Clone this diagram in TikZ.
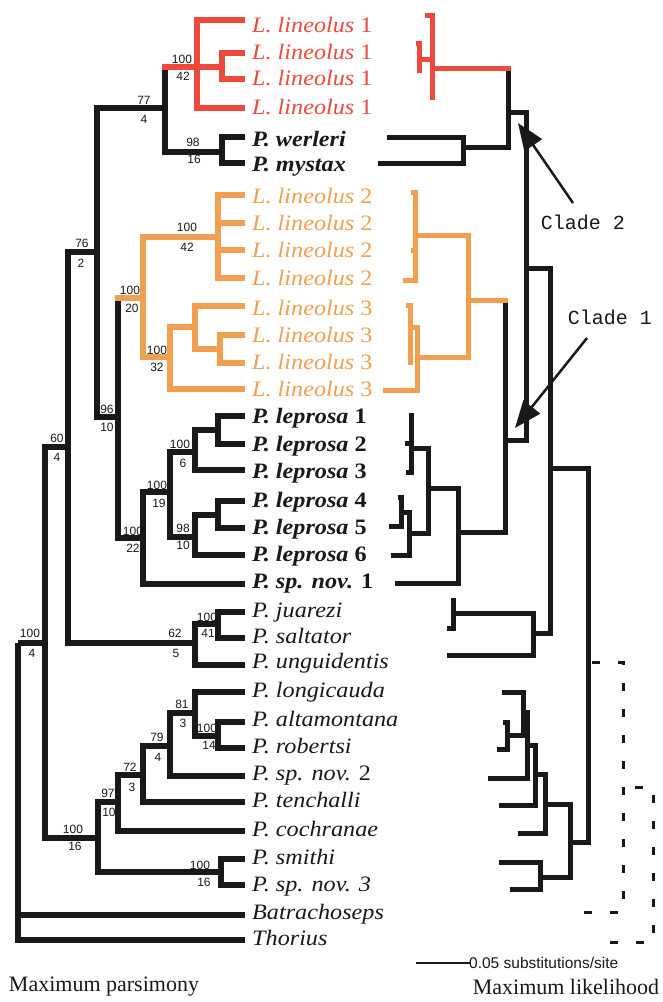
\documentclass[tikz,border=0pt]{standalone}
\usepackage{fontspec}
\setmainfont{Liberation Serif}
\newfontfamily\taxf[FakeStretch=1.1]{Liberation Serif}
\newfontfamily\numf{Liberation Sans}
\newfontfamily\monof{Liberation Mono}
\usetikzlibrary{arrows.meta}
\definecolor{redc}{RGB}{236,74,60}
\definecolor{orac}{RGB}{240,160,80}
\definecolor{inkc}{RGB}{25,25,25}
\begin{document}
\begin{tikzpicture}[x=1pt,y=-1pt,
  mp/.style={line width=5.5pt,draw=inkc},
  ml/.style={line width=5pt,draw=inkc},
  dsh/.style={line width=3pt,draw=inkc,dash pattern=on 8pt off 18pt},
  tx/.style={anchor=west,inner sep=0pt,text height=14pt,text depth=0pt,text=inkc,font=\taxf\fontsize{22}{24}\selectfont\itshape},
  txb/.style={tx,font=\taxf\fontsize{22}{24}\selectfont\bfseries\itshape},
  bs/.style={inner sep=0pt,text=inkc,font=\numf\fontsize{12}{13}\selectfont},
  arr/.style={line width=2.5pt,draw=inkc,-{Triangle[length=27pt,width=21pt]}},
  ttl/.style={inner sep=0pt,text=inkc,font=\fontsize{22}{24}\selectfont}
]
\useasboundingbox (0,0) rectangle (663,1002);
\fill[white] (0,0) rectangle (663,1002);

% ---------- Maximum parsimony tree: internal nodes ----------
\coordinate (R) at (18,643);
\coordinate (n100a) at (45,643);
\coordinate (n60) at (68,447);
\coordinate (n76) at (97,252);
\coordinate (n77) at (165,108);
\coordinate (nred) at (197,67);
\coordinate (nl1bc) at (222,67);
\coordinate (n98w) at (222,152);
\coordinate (n96) at (118,417);
\coordinate (nora) at (143,298);
\coordinate (nl2) at (218,237);
\coordinate (nl3) at (170,357);
\coordinate (nl3abc) at (195,327);
\coordinate (nl3bc) at (220,349);
\coordinate (nlep) at (143,538);
\coordinate (n19) at (170,492);
\coordinate (n6) at (195,452);
\coordinate (nlep12) at (218,430);
\coordinate (n98l) at (195,537);
\coordinate (nlep45) at (218,515);
\coordinate (n62) at (195,643);
\coordinate (n41) at (218,624);
\coordinate (n100b) at (98,838);
\coordinate (n97) at (118,802);
\coordinate (n72) at (143,775);
\coordinate (n79) at (170,746);
\coordinate (n81) at (195,713);
\coordinate (n14) at (218,736);
\coordinate (nsm) at (221,872);
% tips
\foreach \n/\y in {tL1a/20,tL1b/53,tL1c/79,tL1d/108,twer/137,tmys/163,
  tL2a/195,tL2b/223,tL2c/250,tL2d/278,tL3a/306,tL3b/335,tL3c/363,tL3d/389,
  tlep1/416,tlep2/444,tlep3/470,tlep4/501,tlep5/528,tlep6/555,tsp1/584,
  tjua/612,tsal/638,tung/665,tlon/692,talt/722,trob/748,tsp2/776,tten/802,
  tcoc/831,tsmi/859,tsp3/885,tbat/915,ttho/940}
  {\coordinate (\n) at (245,\y);}

% black branches
\foreach \p/\c in {R/n100a,R/tbat,R/ttho,n100a/n60,n100a/n100b,n60/n76,n60/n62,
  n76/n77,n76/n96,n77/n98w,n98w/twer,n98w/tmys,n96/nlep,nlep/n19,nlep/tsp1,
  n19/n6,n19/n98l,n6/nlep12,n6/tlep3,nlep12/tlep1,nlep12/tlep2,n98l/nlep45,
  n98l/tlep6,nlep45/tlep4,nlep45/tlep5,n62/n41,n62/tung,n41/tjua,n41/tsal,
  n100b/n97,n100b/nsm,n97/n72,n97/tcoc,n72/n79,n72/tten,n79/n81,n79/tsp2,
  n81/tlon,n81/n14,n14/talt,n14/trob,nsm/tsmi,nsm/tsp3}
  {\draw[mp] (\p) |- (\c);}
% split stems
\draw[mp] (n77) -- (n77 |- nred);
\draw[mp,draw=redc,line cap=rect] (n77 |- nred) -- (nred);
\draw[mp] (n96) -- (n96 |- nora);
\draw[mp,draw=orac,line cap=rect] (n96 |- nora) -- (nora);
% red
\foreach \p/\c in {nred/tL1a,nred/nl1bc,nred/tL1d,nl1bc/tL1b,nl1bc/tL1c}
  {\draw[mp,draw=redc] (\p) |- (\c);}
% orange
\foreach \p/\c in {nora/nl2,nora/nl3,nl2/tL2a,nl2/tL2b,nl2/tL2c,nl2/tL2d,
  nl3/nl3abc,nl3/tL3d,nl3abc/tL3a,nl3abc/nl3bc,nl3bc/tL3b,nl3bc/tL3c}
  {\draw[mp,draw=orac] (\p) |- (\c);}

% bootstrap values
\foreach \n/\x/\y/\t in {b1/182/59/100,b2/183/76/42,b3/144/100/77,b4/144/119/4,
  b5/193/142/98,b6/194/159/16,b7/187/227/100,b8/187/247/42,b9/82/243/76,b10/81/263/2,
  b11/130/290/100,b12/132/308/20,b13/157/350/100,b14/157/367/32,b15/107/409/96,
  b16/107/427/10,b17/57/438/60,b18/57/457/4,b19/180/444/100,b20/183/463/6,
  b21/157/485/100,b22/159/503/19,b23/133/531/100,b24/133/548/22,b25/183/528/98,
  b26/183/545/10,b27/30/633/100,b28/32/653/4,b29/175/633/62,b30/176/653/5,
  b31/207/617/100,b32/208/633/41,b33/182/704/81,b34/183/723/3,b35/207/728/100,
  b36/209/745/14,b37/157/737/79,b38/158/757/4,b39/130/767/72,b40/132/787/3,
  b41/108/793/97,b42/109/812/10,b43/73/829/100,b44/75/846/16,b45/200/865/100,
  b46/204/882/16}
  {\node[bs] (\n) at (\x,\y) {\t};}

% taxon labels
\foreach \n/\y in {lL1a/25,lL1b/52,lL1c/78,lL1d/107}
  {\node[tx,text=redc] (\n) at (252,\y) {L. lineolus \textup{1}};}
\foreach \n/\y in {lL2a/196,lL2b/223,lL2c/250,lL2d/278}
  {\node[tx,text=orac] (\n) at (252,\y) {L. lineolus \textup{2}};}
\foreach \n/\y in {lL3a/308,lL3b/335,lL3c/362,lL3d/389}
  {\node[tx,text=orac] (\n) at (252,\y) {L. lineolus \textup{3}};}
\node[txb] (lwer) at (252,139) {P. werleri};
\node[txb] (lmys) at (252,164) {P. mystax};
\foreach \n/\y/\k in {llep1/416/1,llep2/444/2,llep3/471/3,llep4/500/4,llep5/527/5,llep6/554/6}
  {\node[txb] (\n) at (252,\y) {P. leprosa \textup{\k}};}
\node[txb] (lsp1) at (252,581) {P. sp. nov. \textup{1}};
\node[tx] (ljua) at (252,610) {P. juarezi};
\node[tx] (lsal) at (252,636) {P. saltator};
\node[tx] (lung) at (252,661) {P. unguidentis};
\node[tx] (llon) at (252,690) {P. longicauda};
\node[tx] (lalt) at (252,719) {P. altamontana};
\node[tx] (lrob) at (252,746) {P. robertsi};
\node[tx] (lsp2) at (252,773) {P. sp. nov. \textup{2}};
\node[tx] (lten) at (252,800) {P. tenchalli};
\node[tx] (lcoc) at (252,829) {P. cochranae};
\node[tx] (lsmi) at (252,857) {P. smithi};
\node[tx] (lsp3) at (252,884) {P. sp. nov. 3};
\node[tx] (lbat) at (252,912) {Batrachoseps};
\node[tx] (ltho) at (252,938) {Thorius};

% ---------- Maximum likelihood tree ----------
\coordinate (mIR) at (588,662);
\coordinate (mD1) at (623,787);
\coordinate (mD0) at (653,787);
\coordinate (m550) at (550,468);
\coordinate (m570) at (570,842);
\coordinate (mA) at (526,268);
\coordinate (mJ) at (533,633);
\coordinate (mRW) at (508,112);
\coordinate (mB) at (505,440);
\coordinate (mRed) at (432,68);
\coordinate (mR23) at (419,59);
\coordinate (mWM) at (463,147);
\coordinate (mOr) at (468,300);
\coordinate (mL2) at (415,235);
\coordinate (mL3) at (417,357);
\coordinate (mL3a) at (410,327);
\coordinate (mLep) at (458,532);
\coordinate (mL16) at (428,488);
\coordinate (mL123) at (411,448);
\coordinate (mL456) at (409,533);
\coordinate (mL45) at (401,512);
\coordinate (mJS) at (453,613);
\coordinate (m545) at (545,804);
\coordinate (m535) at (535,774);
\coordinate (m527) at (527,745);
\coordinate (m523) at (523,712);
\coordinate (mAR) at (507,735);
\coordinate (mSm) at (540,877);
% ML tips
\foreach \n/\x/\y in {mt1/425/15,mt2/416/43,mt3/419/73,mt4/432/100,
  mwer/387/137,mmys/378/163,mL2a/411/192,mL2b/415/222,mL2c/411/250,mL2d/403/280,
  mL3a1/406/305,mL3b/410/335,mL3c/410/365,mL3d/383/390,
  mlep1/411/413,mlep2/405/443,mlep3/406/472,mlep4/398/497,mlep5/389/526,
  mlep6/391/555,msp1/395/583,mjua/453/598,msal/447/628,mung/447/655,
  mlon/502/692,malt/503/722,mrob/497/749,msp2/488/778,mten/499/805,mcoc/518/833,
  msmi/499/862,msp3/510/889,mbat/567/912,mtho/595/942}
  {\coordinate (\n) at (\x,\y);}

\foreach \p/\c in {mIR/m550,mIR/m570,m550/mA,m550/mJ,mA/mRW,mA/mB,mRW/mWM,
  mWM/mwer,mWM/mmys,mB/mLep,mLep/mL16,mLep/msp1,mL16/mL123,mL16/mL456,
  mL123/mlep1,mL123/mlep2,mL123/mlep3,mL456/mL45,mL456/mlep6,mL45/mlep4,
  mL45/mlep5,mJ/mJS,mJ/mung,mJS/mjua,mJS/msal,m570/m545,m570/mSm,m545/m535,
  m545/mcoc,m535/m527,m535/mten,m527/m523,m527/msp2,m523/mlon,m523/mAR,
  mAR/malt,mAR/mrob,mSm/msmi,mSm/msp3}
  {\draw[ml] (\p) |- (\c);}
\draw[ml] (mRW) -- (mRW |- mRed);
\draw[ml,draw=redc,line cap=rect] (mRW |- mRed) -- (mRed);
\draw[ml] (mB) -- (mB |- mOr);
\draw[ml,draw=orac,line cap=rect] (mB |- mOr) -- (mOr);
\foreach \p/\c in {mRed/mt1,mRed/mR23,mRed/mt4,mR23/mt2,mR23/mt3}
  {\draw[ml,draw=redc] (\p) |- (\c);}
\foreach \p/\c in {mOr/mL2,mOr/mL3,mL2/mL2a,mL2/mL2b,mL2/mL2c,mL2/mL2d,
  mL3/mL3a,mL3/mL3d,mL3a/mL3a1,mL3a/mL3b,mL3a/mL3c}
  {\draw[ml,draw=orac] (\p) |- (\c);}
% outgroup (dashed)
\draw[dsh,dash phase=22pt] (mIR) -| (mD1) |- (mbat);
\draw[dsh,dash phase=14pt] (mD1) -- (mD0) |- (mtho);

% clade arrows
\node[inner sep=0pt,text=inkc,font=\monof\fontsize{20}{22}\selectfont] (clade2) at (583,222) {Clade 2};
\node[inner sep=0pt,text=inkc,font=\monof\fontsize{20}{22}\selectfont] (clade1) at (610,317) {Clade 1};
\coordinate (c2s) at (573,203);
\coordinate (c2e) at (518,123);
\coordinate (c1s) at (587,338);
\coordinate (c1e) at (515,428);
\draw[arr] (c2s) -- (c2e);
\draw[arr] (c1s) -- (c1e);

% scale bar
\coordinate (sb1) at (416,963);
\coordinate (sb2) at (470,963);
\draw[line width=2.5pt,draw=inkc] (sb1) -- (sb2);
\node[anchor=west,inner sep=0pt,text height=11pt,text depth=0pt,text=inkc,font=\numf\fontsize{15.5}{17}\selectfont] (sbl) at (469,963) {0.05 substitutions/site};

% titles
\node[ttl] (tmp) at (104,987) {Maximum parsimony};
\node[ttl] (tml) at (566,987) {Maximum likelihood};
\end{tikzpicture}
\end{document}
